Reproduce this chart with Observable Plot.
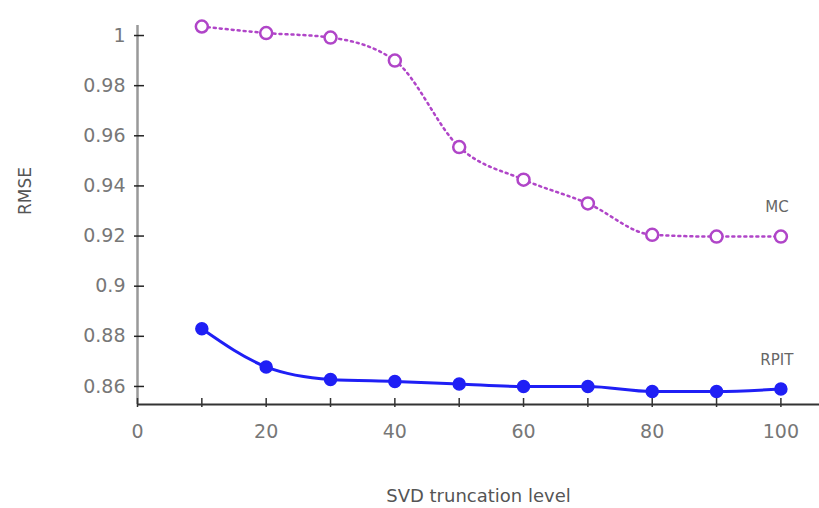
<!DOCTYPE html>
<html>
<head>
<meta charset="utf-8">
<script src="https://cdn.jsdelivr.net/npm/d3@7"></script>
<script src="https://cdn.jsdelivr.net/npm/@observablehq/plot@0.6"></script>
<style>
  html, body { margin: 0; padding: 0; background: #fff; }
  #chart svg { display: block; }
</style>
</head>
<body>
<div id="chart"></div>
<script>
const levels = [10, 20, 30, 40, 50, 60, 70, 80, 90, 100];
const mcValues = [1.0036, 1.0010, 0.9992, 0.9900, 0.9555, 0.9425, 0.9330, 0.9205, 0.9198, 0.9198];
const rpitValues = [0.8830, 0.8678, 0.8628, 0.8620, 0.8610, 0.8600, 0.8600, 0.8580, 0.8580, 0.8590];
const seriesNames = ["MC", "RPIT"];
const yTicks = [0.86, 0.88, 0.9, 0.92, 0.94, 0.96, 0.98, 1];
const xTickMarks = [0, 10, 20, 30, 40, 50, 60, 70, 80, 90, 100];
const xTickLabels = [0, 20, 40, 60, 80, 100];
const yDomain = [0.8528, 1.004];
const xDomain = [0, 106];

const mc = levels.map((x, i) => ({x, y: mcValues[i]}));
const rpit = levels.map((x, i) => ({x, y: rpitValues[i]}));
const labelData = [
  {name: seriesNames[0], x: 100, y: mcValues[9]},
  {name: seriesNames[1], x: 100, y: rpitValues[9]}
];

const purple = "#b045c8";
const blue = "#1f1ff5";
const font = "'DejaVu Sans', Verdana, sans-serif";

const chart = Plot.plot({
  width: 819,
  height: 508,
  marginLeft: 137,
  marginRight: 0,
  marginTop: 25,
  marginBottom: 104,
  style: {fontFamily: font, background: "#fff"},
  x: {domain: xDomain, label: null},
  y: {domain: yDomain, label: null},
  marks: [
    Plot.ruleX([xDomain[0]], {stroke: "#999", strokeWidth: 2.5}),
    Plot.ruleY([yDomain[0]], {stroke: "#333", strokeWidth: 2}),
    Plot.axisY(yTicks, {anchor: "left", tickSize: 10, dx: 7, tickFormat: () => "", stroke: "#222", strokeWidth: 1.5, label: null}),
    Plot.axisY(yTicks, {anchor: "left", tickSize: 0, tickPadding: 12, tickFormat: d => String(d), fontSize: 19, fill: "#777", label: null}),
    Plot.axisX(xTickMarks, {anchor: "bottom", tickSize: 9, dy: -6, tickFormat: () => "", stroke: "#333", strokeWidth: 1.5, label: null}),
    Plot.axisX(xTickLabels, {anchor: "bottom", tickSize: 0, tickPadding: 20, tickFormat: d => String(d), fontSize: 19, fill: "#777", label: null}),
    Plot.text(["SVD truncation level"], {frameAnchor: "bottom", dy: 97, fontSize: 18, fill: "#555"}),
    Plot.text(["RMSE"], {frameAnchor: "left", dx: -112, rotate: -90, fontSize: 17, fill: "#555"}),
    Plot.line(mc, {x: "x", y: "y", stroke: purple, strokeWidth: 2.5, strokeDasharray: "2,4", strokeLinecap: "round", curve: "monotone-x"}),
    Plot.dot(mc, {x: "x", y: "y", r: 6, stroke: purple, strokeWidth: 2.5, fill: "#fff"}),
    Plot.line(rpit, {x: "x", y: "y", stroke: blue, strokeWidth: 3, curve: "monotone-x"}),
    Plot.dot(rpit, {x: "x", y: "y", r: 6, fill: blue, stroke: blue}),
    Plot.text(labelData, {x: "x", y: "y", text: "name", dy: -29, dx: -4, fontSize: 15, fill: "#666"})
  ]
});
document.getElementById("chart").appendChild(chart);
</script>
</body>
</html>
